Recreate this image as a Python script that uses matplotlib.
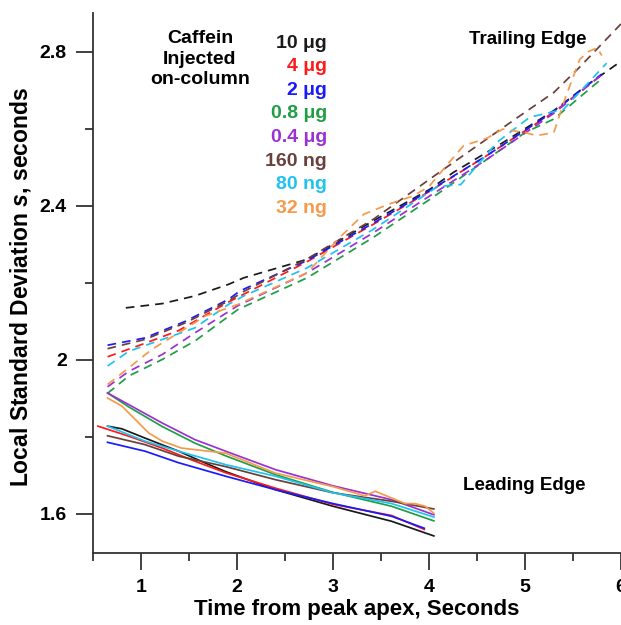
import matplotlib
matplotlib.use('Agg')
import matplotlib.pyplot as plt
from matplotlib.ticker import MultipleLocator

plt.rcParams['font.family'] = ['Liberation Sans', 'DejaVu Sans']
plt.rcParams['font.weight'] = 'bold'
plt.rcParams['mathtext.fontset'] = 'custom'
plt.rcParams['mathtext.it'] = 'Liberation Sans:italic'

# legend entries (label, colour)
labels = ['10 \u03bcg', '4 \u03bcg', '2 \u03bcg', '0.8 \u03bcg', '0.4 \u03bcg', '160 ng', '80 ng', '32 ng']
colors = ['#1a1a1a', '#ff1a1a', '#1a1aff', '#1f9e45', '#9b30d3', '#6b3f3c', '#1ec3f0', '#f59a4a']

# leading edge (solid)
lead_black_x = [0.65, 0.80, 1.04, 1.39, 1.67, 1.88, 2.40, 3.00, 3.61, 4.05]
lead_black_y = [1.828, 1.821, 1.797, 1.763, 1.732, 1.710, 1.663, 1.620, 1.581, 1.543]
lead_red_x = [0.55, 0.87, 1.22, 1.56, 1.88, 2.40, 3.00, 3.61, 3.95]
lead_red_y = [1.828, 1.802, 1.771, 1.737, 1.707, 1.667, 1.625, 1.596, 1.560]
lead_blue_x = [0.65, 1.04, 1.39, 1.88, 2.40, 3.00, 3.61, 3.95]
lead_blue_y = [1.786, 1.763, 1.733, 1.698, 1.663, 1.627, 1.594, 1.563]
lead_green_x = [0.65, 0.87, 1.22, 1.56, 1.88, 2.40, 3.00, 3.61, 4.05]
lead_green_y = [1.914, 1.878, 1.827, 1.784, 1.751, 1.702, 1.656, 1.620, 1.582]
lead_purple_x = [0.65, 0.87, 1.22, 1.56, 1.88, 2.40, 3.00, 3.61, 4.05]
lead_purple_y = [1.914, 1.884, 1.836, 1.793, 1.763, 1.715, 1.673, 1.637, 1.598]
lead_brown_x = [0.65, 1.04, 1.39, 1.88, 2.40, 3.00, 3.61, 4.05]
lead_brown_y = [1.803, 1.780, 1.750, 1.723, 1.689, 1.655, 1.633, 1.613]
lead_cyan_x = [0.65, 1.04, 1.39, 1.88, 2.40, 3.00, 3.61, 4.05]
lead_cyan_y = [1.828, 1.789, 1.763, 1.728, 1.698, 1.655, 1.627, 1.592]
lead_orange_x = [0.65, 0.80, 0.94, 1.08, 1.22, 1.42, 1.63, 1.88, 2.40, 3.00, 3.33, 3.44, 3.75, 3.85, 3.96, 4.05]
lead_orange_y = [1.901, 1.880, 1.845, 1.810, 1.789, 1.771, 1.765, 1.758, 1.706, 1.671, 1.647, 1.659, 1.627, 1.627, 1.620, 1.602]

# trailing edge (dashed)
trail_black_x = [0.84, 1.22, 1.56, 1.91, 2.07, 2.73, 3.42, 4.01, 4.25, 4.77, 5.30, 5.64, 6.00]
trail_black_y = [2.135, 2.146, 2.166, 2.196, 2.213, 2.261, 2.361, 2.443, 2.486, 2.564, 2.647, 2.712, 2.775]
trail_red_x = [0.65, 1.04, 1.39, 1.91, 2.73, 3.42, 4.01, 4.60, 5.30, 5.80]
trail_red_y = [2.008, 2.043, 2.076, 2.150, 2.255, 2.352, 2.438, 2.530, 2.643, 2.740]
trail_blue_x = [0.65, 1.04, 1.46, 1.91, 2.03, 2.73, 3.42, 4.01, 4.60, 5.30, 5.80]
trail_blue_y = [2.038, 2.057, 2.100, 2.157, 2.179, 2.258, 2.355, 2.440, 2.530, 2.645, 2.742]
trail_green_x = [0.65, 0.87, 1.22, 1.56, 2.01, 2.73, 3.42, 4.01, 4.36, 5.00, 5.30, 5.80]
trail_green_y = [1.913, 1.958, 2.001, 2.049, 2.131, 2.213, 2.318, 2.417, 2.478, 2.590, 2.625, 2.730]
trail_purple_x = [0.65, 0.87, 1.22, 1.56, 2.01, 2.73, 3.42, 4.01, 4.60, 5.30, 5.80]
trail_purple_y = [1.930, 1.970, 2.014, 2.070, 2.141, 2.226, 2.330, 2.426, 2.520, 2.640, 2.740]
trail_brown_x = [0.65, 1.04, 1.46, 1.91, 2.08, 2.73, 3.42, 3.90, 4.08, 4.60, 4.95, 5.30, 5.57, 6.00]
trail_brown_y = [2.029, 2.053, 2.096, 2.153, 2.179, 2.262, 2.365, 2.450, 2.482, 2.573, 2.634, 2.694, 2.760, 2.872]
trail_cyan_x = [0.65, 0.87, 1.22, 1.56, 1.91, 2.07, 2.73, 3.42, 4.09, 4.33, 4.71, 5.05, 5.40, 5.85]
trail_cyan_y = [1.984, 2.022, 2.053, 2.083, 2.144, 2.166, 2.239, 2.339, 2.450, 2.455, 2.565, 2.630, 2.650, 2.770]
trail_orange_x = [0.65, 0.87, 1.11, 1.39, 1.67, 2.01, 2.73, 3.07, 3.32, 3.59, 3.83, 4.00, 4.20, 4.36, 4.60, 4.77,
                  5.00, 5.12, 5.30, 5.42, 5.57, 5.66, 5.75, 5.80]
trail_orange_y = [1.936, 1.979, 2.027, 2.070, 2.114, 2.144, 2.226, 2.318, 2.378, 2.405, 2.425, 2.450, 2.510, 2.556,
                  2.575, 2.599, 2.590, 2.582, 2.590, 2.680, 2.780, 2.800, 2.810, 2.790]

lead = [(lead_black_x, lead_black_y), (lead_red_x, lead_red_y), (lead_blue_x, lead_blue_y),
        (lead_green_x, lead_green_y), (lead_purple_x, lead_purple_y), (lead_brown_x, lead_brown_y),
        (lead_cyan_x, lead_cyan_y), (lead_orange_x, lead_orange_y)]
trail = [(trail_black_x, trail_black_y), (trail_red_x, trail_red_y), (trail_blue_x, trail_blue_y),
         (trail_green_x, trail_green_y), (trail_purple_x, trail_purple_y), (trail_brown_x, trail_brown_y),
         (trail_cyan_x, trail_cyan_y), (trail_orange_x, trail_orange_y)]

fig = plt.figure(figsize=(6.21, 6.25), dpi=100)
ax = fig.add_axes([0.150, 0.116, 0.850, 0.863])

for (x, y), c in zip(trail, colors):
    ax.plot(x, y, color=c, lw=1.25, ls=(0, (5, 3.5)), clip_on=False)
for (x, y), c in zip(lead, colors):
    ax.plot(x, y, color=c, lw=1.25)

ax.set_xlim(0.5, 6.0)
ax.set_ylim(1.5, 2.9)
ax.xaxis.set_minor_locator(MultipleLocator(0.5))
ax.yaxis.set_minor_locator(MultipleLocator(0.2))
ax.set_yticks([1.6, 2.0, 2.4, 2.8])
ax.set_yticklabels(['1.6', '2', '2.4', '2.8'])
ax.set_xticks([1, 2, 3, 4, 5, 6])

for s in ['top', 'right']:
    ax.spines[s].set_visible(False)
for s in ['left', 'bottom']:
    ax.spines[s].set_linewidth(1.3)
    ax.spines[s].set_color('#333333')
ax.tick_params(which='major', length=12, width=1.3, color='#333333', labelsize=14, pad=7)
ax.tick_params(which='minor', length=6, width=1.3, color='#333333')

ax.set_xlabel('Time from peak apex, Seconds', fontsize=16, fontweight='bold', labelpad=2)
ax.set_ylabel('Local Standard Deviation $\\mathit{s}$, seconds', fontsize=16.5, fontweight='bold')
ax.yaxis.set_label_coords(-0.114, 0.493)

fig.text(200 / 621, 1 - 59 / 625, 'Caffein\nInjected\non-column', ha='center', va='center',
         fontsize=14, fontweight='bold', linespacing=1.3)
for i, (lab, c) in enumerate(zip(labels, colors)):
    fig.text(327 / 621, 1 - (43 + 23.6 * i) / 625, lab, color=c, ha='right', va='center',
             fontsize=14, fontweight='bold')

fig.text(528 / 621, 1 - 40 / 625, 'Trailing Edge', ha='center', va='center', fontsize=13.5, fontweight='bold')
fig.text(524 / 621, 1 - 485 / 625, 'Leading Edge', ha='center', va='center', fontsize=13.5, fontweight='bold')

fig.savefig('out.png', dpi=100)
